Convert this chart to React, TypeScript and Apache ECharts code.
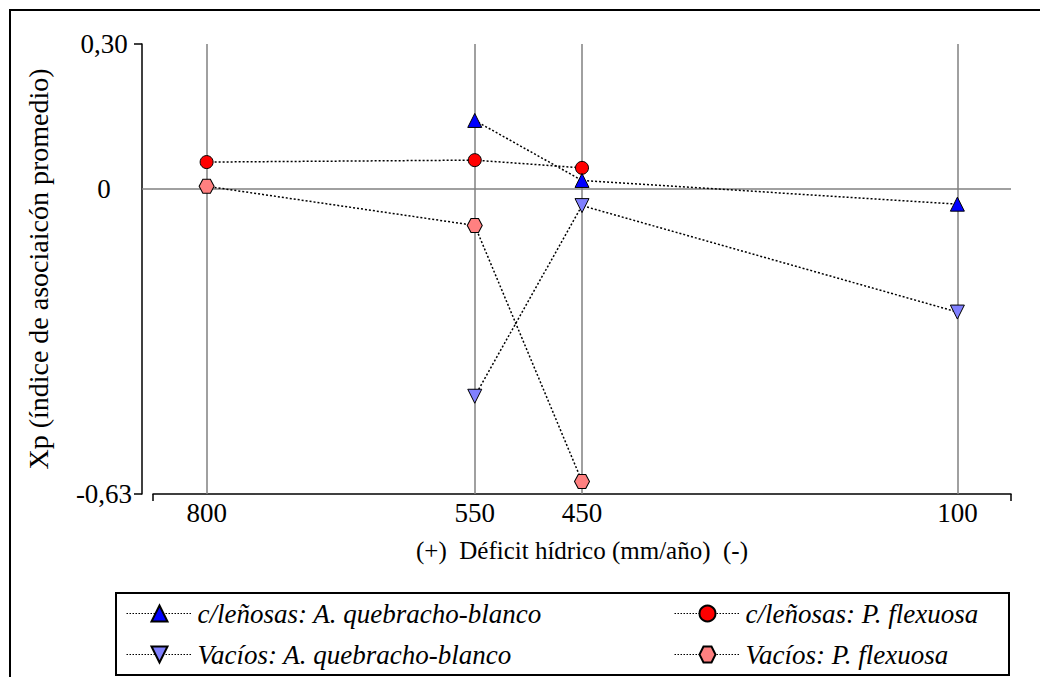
import React, { useEffect, useRef } from 'react';
import * as echarts from 'echarts';

// Water deficit (mm/year) positions shown on the horizontal axis
const deficitTicks = [800, 550, 450, 100];
// Xp tick values on the vertical axis
const xpLabelTicks = [0.3, 0, -0.63];
const xpEdgeTicks = [0.3, -0.63];
const deficitEdgeTicks = [50, 850];

const seriesNames = [
  'c/leñosas: A. quebracho-blanco',
  'c/leñosas: P. flexuosa',
  'Vacíos: A. quebracho-blanco',
  'Vacíos: P. flexuosa',
];

// [deficit, Xp]
const lenosasQuebracho = [
  [550, 0.142],
  [450, 0.018],
  [100, -0.031],
];
const lenosasFlexuosa = [
  [800, 0.056],
  [550, 0.06],
  [450, 0.044],
];
const vaciosQuebracho = [
  [550, -0.428],
  [450, -0.034],
  [100, -0.254],
];
const vaciosFlexuosa = [
  [800, 0.006],
  [550, -0.075],
  [450, -0.604],
];

const FONT = 'Times New Roman';
const HEXAGON = 'path://M0,50 L25,0 L75,0 L100,50 L75,100 L25,100 Z';

const dotted = { color: '#000', width: 1.5, type: [2, 2] as number[] };
const marker = (color: string) => ({ color, borderColor: '#000', borderWidth: 1, opacity: 1 });

const formatXp = (v: number) => (v === 0 ? '0' : v.toFixed(2).replace('.', ','));

export default function App() {
  const ref = useRef<HTMLDivElement>(null);

  useEffect(() => {
    if (!ref.current) return;
    const chart = echarts.init(ref.current, undefined, { renderer: 'svg' });

    const legendBase = {
      orient: 'vertical',
      top: 600,
      itemWidth: 66,
      itemHeight: 20,
      itemGap: 14,
      padding: 0,
      selectedMode: false,
      textStyle: {
        fontFamily: FONT,
        fontSize: 27,
        fontStyle: 'italic',
        color: '#000',
        lineHeight: 27,
      },
      lineStyle: { width: 1, type: [1.5, 1.5] },
    };

    chart.setOption({
      animation: false,
      backgroundColor: '#fff',
      graphic: [
        {
          type: 'rect',
          z: 0,
          shape: { x: 10, y: 10, width: 1100, height: 800 },
          style: { fill: 'none', stroke: '#000', lineWidth: 2 },
        },
        {
          type: 'rect',
          z: 0,
          shape: { x: 116, y: 593, width: 893, height: 82 },
          style: { fill: 'none', stroke: '#000', lineWidth: 2 },
        },
      ],
      grid: { left: 153, right: 29, top: 44, bottom: 183 },
      legend: [
        { ...legendBase, left: 126, data: [seriesNames[0], seriesNames[2]] },
        { ...legendBase, left: 674, data: [seriesNames[1], seriesNames[3]] },
      ],
      xAxis: {
        type: 'value',
        min: 50,
        max: 850,
        inverse: true,
        name: '(+)  Déficit hídrico (mm/año)  (-)',
        nameLocation: 'middle',
        nameGap: 44,
        nameTextStyle: { fontFamily: FONT, fontSize: 25, color: '#000' },
        axisLine: { show: true, onZero: false, lineStyle: { color: '#000', width: 1.5 } },
        axisTick: {
          show: true,
          length: 7,
          customValues: deficitEdgeTicks,
          lineStyle: { color: '#000', width: 1.5 },
        },
        axisLabel: {
          customValues: deficitTicks,
          fontFamily: FONT,
          fontSize: 27,
          color: '#000',
          margin: 5,
        },
        splitLine: { show: false },
      },
      yAxis: [
        {
          type: 'value',
          min: -0.63,
          max: 0.3,
          offset: 11,
          position: 'left',
          name: 'Xp (índice de asociaicón promedio)',
          nameLocation: 'middle',
          nameGap: 90,
          nameTextStyle: { fontFamily: FONT, fontSize: 28, color: '#000' },
          axisLine: { show: true, onZero: false, lineStyle: { color: '#000', width: 1.5 } },
          axisTick: {
            show: true,
            length: 8,
            customValues: xpEdgeTicks,
            lineStyle: { color: '#000', width: 1.5 },
          },
          axisLabel: {
            customValues: xpLabelTicks,
            formatter: formatXp,
            fontFamily: FONT,
            fontSize: 27,
            color: '#000',
            align: 'center',
            margin: 38,
          },
          splitLine: { show: false },
        },
        {
          type: 'value',
          min: -0.63,
          max: 0.3,
          offset: 11,
          position: 'left',
          axisLine: { show: false, onZero: false },
          axisTick: {
            show: true,
            inside: true,
            length: 11,
            customValues: [0],
            lineStyle: { color: '#808080', width: 1.5 },
          },
          axisLabel: { show: false },
          splitLine: { show: false },
        },
      ],
      series: [
        {
          type: 'line',
          name: seriesNames[0],
          data: lenosasQuebracho,
          symbol: 'triangle',
          symbolSize: 14,
          itemStyle: marker('#0000ff'),
          lineStyle: dotted,
          z: 4,
          markLine: {
            silent: true,
            symbol: 'none',
            z: 1,
            label: { show: false },
            lineStyle: { color: '#808080', width: 1.5, type: 'solid' },
            data: [...deficitTicks.map((v) => ({ xAxis: v })), { yAxis: 0 }],
          },
        },
        {
          type: 'line',
          name: seriesNames[1],
          data: lenosasFlexuosa,
          symbol: 'circle',
          symbolSize: 13,
          itemStyle: marker('#ff0000'),
          lineStyle: dotted,
          z: 3,
        },
        {
          type: 'line',
          name: seriesNames[2],
          data: vaciosQuebracho,
          symbol: 'triangle',
          symbolRotate: 180,
          symbolSize: 14,
          itemStyle: marker('#8080ff'),
          lineStyle: dotted,
          z: 3,
        },
        {
          type: 'line',
          name: seriesNames[3],
          data: vaciosFlexuosa,
          symbol: HEXAGON,
          symbolSize: [15, 14],
          itemStyle: marker('#ff8080'),
          lineStyle: dotted,
          z: 3,
        },
      ],
    });

    return () => chart.dispose();
  }, []);

  return (
    <div
      ref={ref}
      style={{ position: 'fixed', left: 0, top: 0, width: 1040, height: 677, background: '#fff' }}
    />
  );
}
